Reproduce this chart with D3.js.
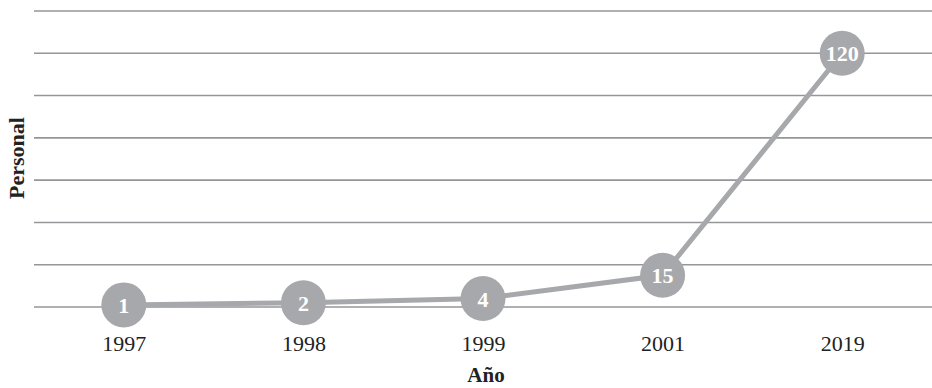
<!DOCTYPE html>
<html>
<head>
<meta charset="utf-8">
<script src="https://cdn.jsdelivr.net/npm/d3@7"></script>
<style>
  body { margin: 0; background: #fff; }
  svg text { font-family: "Liberation Serif", "Times New Roman", serif; }
</style>
</head>
<body>
<svg id="svg" width="932" height="388"></svg>
<script>
var years = ["1997", "1998", "1999", "2001", "2019"];
var personal = [1, 2, 4, 15, 120];
var yTicks = [0, 20, 40, 60, 80, 100, 120, 140];

window.onload = function () {
    var svgWidth = 932;
    var svgHeight = 388;
    var margin = { top: 11, right: 0, bottom: 81, left: 34 };
    var chartWidth = svgWidth - margin.left - margin.right;
    var chartHeight = svgHeight - margin.top - margin.bottom;

    var svg = d3.select("svg");
    var chart = svg.append("g")
        .attr("transform", "translate(" + margin.left + "," + margin.top + ")");

    var xScale = d3.scalePoint()
        .domain(years)
        .range([0, chartWidth])
        .padding(0.5);

    var yScale = d3.scaleLinear()
        .domain([0, 140])
        .range([chartHeight, 0]);

    // horizontal grid lines
    chart.append("g")
        .attr("class", "grid")
        .selectAll("line")
        .data(yTicks)
        .enter().append("line")
        .attr("x1", 0)
        .attr("x2", chartWidth)
        .attr("y1", function (d) { return yScale(d); })
        .attr("y2", function (d) { return yScale(d); })
        .attr("stroke", "#96969a")
        .attr("stroke-width", 1.6);

    // x axis labels (no line, no ticks)
    var xAxis = d3.axisBottom(xScale).tickSize(0).tickPadding(0);
    var xg = chart.append("g")
        .attr("transform", "translate(0," + chartHeight + ")")
        .call(xAxis);
    xg.select(".domain").remove();
    xg.selectAll("text")
        .attr("dy", null)
        .attr("y", 44)
        .attr("font-size", 22)
        .attr("font-family", "Liberation Serif, serif")
        .attr("fill", "#222");

    var pts = years.map(function (y, i) { return { year: y, value: personal[i] }; });

    var line = d3.line()
        .x(function (d) { return xScale(d.year); })
        .y(function (d) { return yScale(d.value); });

    chart.append("path")
        .datum(pts)
        .attr("d", line)
        .attr("fill", "none")
        .attr("stroke", "#a7a8ab")
        .attr("stroke-width", 5);

    var dots = chart.selectAll(".dot")
        .data(pts)
        .enter().append("g")
        .attr("class", "dot")
        .attr("transform", function (d) {
            return "translate(" + xScale(d.year) + "," + yScale(d.value) + ")";
        });

    dots.append("circle")
        .attr("r", 22.5)
        .attr("fill", "#a7a8ab");

    dots.append("text")
        .attr("text-anchor", "middle")
        .attr("y", 8)
        .attr("font-size", 22)
        .attr("font-weight", "bold")
        .attr("fill", "#fff")
        .text(function (d) { return d.value; });

    // axis titles
    svg.append("text")
        .attr("x", 486)
        .attr("y", 382)
        .attr("text-anchor", "middle")
        .attr("font-size", 21)
        .attr("font-weight", "bold")
        .attr("fill", "#222")
        .text("Año");

    svg.append("text")
        .attr("transform", "translate(24," + 158 + ") rotate(-90)")
        .attr("text-anchor", "middle")
        .attr("font-size", 22)
        .attr("font-weight", "bold")
        .attr("fill", "#222")
        .text("Personal");
};
</script>
</body>
</html>
